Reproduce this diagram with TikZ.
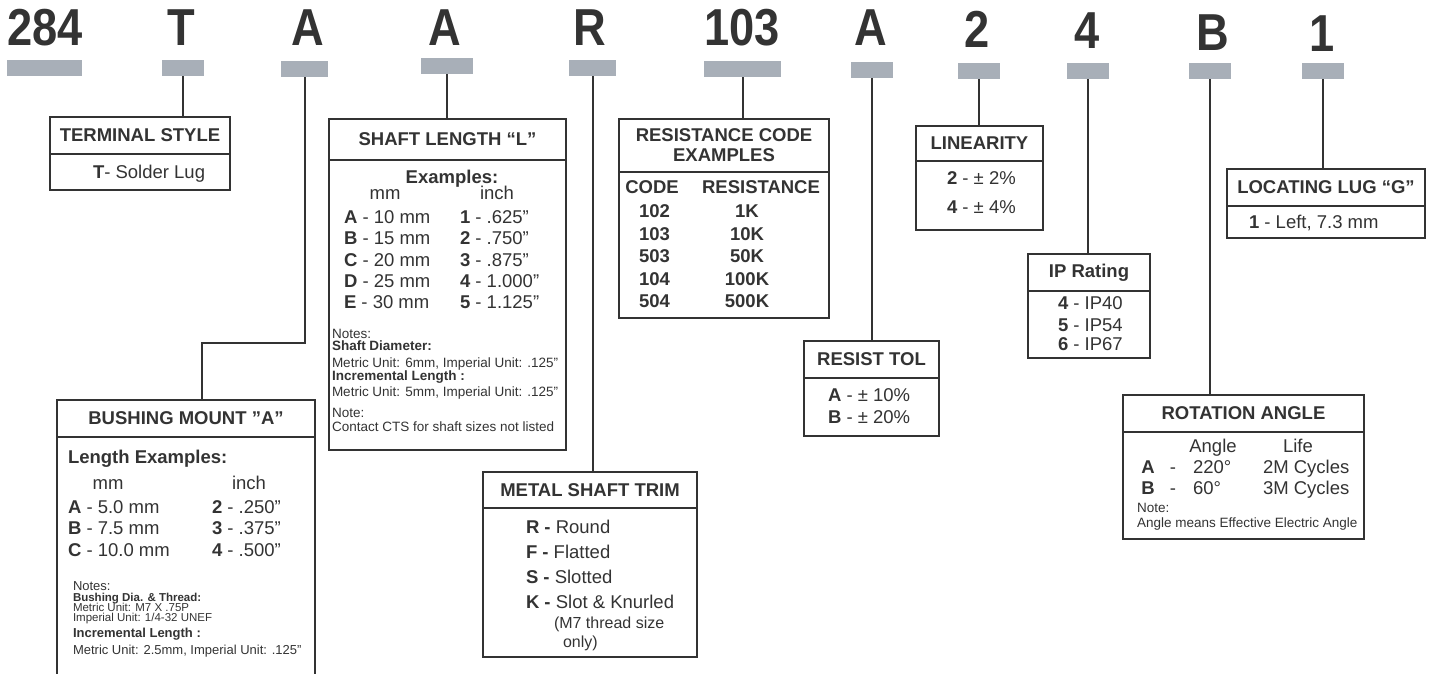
\documentclass[tikz,border=0pt]{standalone}
\usepackage{fontspec}
\setmainfont{Liberation Sans}
\definecolor{ink}{HTML}{333333}
\definecolor{slotgray}{HTML}{A8AFB8}
\begin{document}
\begin{tikzpicture}[x=1pt, y=-1pt, color=ink, line width=2pt,
  code/.style={font=\bfseries\fontsize{52}{52}\selectfont, anchor=base, inner sep=0pt},
  slot/.style={fill=slotgray, inner sep=0pt, outer sep=0pt, anchor=north west, minimum height=16pt},
  head/.style={draw, inner sep=0pt, outer sep=0pt, anchor=north west, minimum height=37pt, align=center, font=\bfseries\fontsize{18.5}{20}\selectfont},
  body/.style={draw, inner sep=0pt, outer sep=0pt, anchor=north},
  txt/.style={inner sep=0pt, anchor=west, text height=13.2pt, text depth=0pt, font=\fontsize{18.5}{20}\selectfont},
  note/.style={inner sep=0pt, anchor=west, text height=9.6pt, text depth=0pt, font=\fontsize{13.5}{15}\selectfont},
  tiny/.style={inner sep=0pt, anchor=west, text height=8.2pt, text depth=0pt, font=\fontsize{11.5}{12}\selectfont}]
\useasboundingbox (0,0) rectangle (1435,673);
\clip (0,0) rectangle (1435,673);

\node[code] (c284) at (45,45) {\scalebox{0.87}[1]{284}};
\node[code] (cT) at (181,45) {\scalebox{0.87}[1]{T}};
\node[code] (cA1) at (308,45) {\scalebox{0.87}[1]{A}};
\node[code] (cA2) at (445,45) {\scalebox{0.87}[1]{A}};
\node[code] (cR) at (590,45) {\scalebox{0.87}[1]{R}};
\node[code] (c103) at (742,45) {\scalebox{0.87}[1]{103}};
\node[code] (cA3) at (871,45) {\scalebox{0.87}[1]{A}};
\node[code] (c2) at (977,47) {\scalebox{0.87}[1]{2}};
\node[code] (c4) at (1087,48) {\scalebox{0.87}[1]{4}};
\node[code] (cB) at (1213,50) {\scalebox{0.87}[1]{B}};
\node[code] (c1) at (1322,51) {\scalebox{0.87}[1]{1}};

\node[slot, minimum width=75pt] (s284) at (7,60) {};
\node[slot, minimum width=42pt] (sT) at (162,60) {};
\node[slot, minimum width=47pt] (sA1) at (281,61) {};
\node[slot, minimum width=52pt] (sA2) at (421,58) {};
\node[slot, minimum width=47pt] (sR) at (569,60) {};
\node[slot, minimum width=77pt] (s103) at (704,61) {};
\node[slot, minimum width=42pt] (sA3) at (851,62) {};
\node[slot, minimum width=42pt] (s2) at (958,63) {};
\node[slot, minimum width=42pt] (s4) at (1067,63) {};
\node[slot, minimum width=42pt] (sB) at (1189,63) {};
\node[slot, minimum width=42pt] (s1) at (1302,63) {};

\node[head, minimum width=180pt] (termhead) at (50,117) {TERMINAL STYLE};
\node[body, minimum width=180pt, minimum height=36pt] (termbody) at (termhead.south) {};
\node[txt] (termT) at (92,172) {\textbf{T}- Solder Lug};

\node[head, minimum width=258pt] (bushhead) at (57,400) {BUSHING MOUNT ”A”};
\node[body, minimum width=258pt, minimum height=260pt] (bushbody) at (bushhead.south) {};
\node[txt] (bushex) at (67,457) {\textbf{Length Examples:}};
\node[txt, anchor=center] (bushmm) at (108,483) {mm};
\node[txt, anchor=center] (bushin) at (249,483) {inch};
\node[txt] (bushA) at (67,507) {\textbf{A} - 5.0 mm};
\node[txt] (bushB) at (67,528) {\textbf{B} - 7.5 mm};
\node[txt] (bushC) at (67,550) {\textbf{C} - 10.0 mm};
\node[txt] (bush2) at (211,507) {\textbf{2} - .250”};
\node[txt] (bush3) at (211,528) {\textbf{3} - .375”};
\node[txt] (bush4) at (211,550) {\textbf{4} - .500”};
\node[note, font=\fontsize{13}{15}\selectfont] (bushn1) at (72,586) {Notes:};
\node[tiny] (bushn2) at (72,597) {\textbf{Bushing Dia. \& Thread:}};
\node[tiny] (bushn3) at (72,607) {Metric Unit: M7 X .75P};
\node[tiny] (bushn4) at (72,617) {Imperial Unit: 1/4-32 UNEF};
\node[note, font=\fontsize{13}{15}\selectfont] (bushn5) at (72,633) {\textbf{Incremental Length :}};
\node[note, font=\fontsize{13}{15}\selectfont] (bushn6) at (72,650) {Metric Unit: 2.5mm, Imperial Unit: .125”};

\node[head, minimum width=237pt, minimum height=41pt] (shafthead) at (329,119) {SHAFT LENGTH “L”};
\node[body, minimum width=237pt, minimum height=290pt] (shaftbody) at (shafthead.south) {};
\node[txt, anchor=center] (shaftex) at (452,177) {\textbf{Examples:}};
\node[txt, anchor=center] (shaftmm) at (385,193) {mm};
\node[txt, anchor=center] (shaftin) at (497,193) {inch};
\node[txt] (shaftA) at (343,217) {\textbf{A} - 10 mm};
\node[txt] (shaftB) at (343,238) {\textbf{B} - 15 mm};
\node[txt] (shaftC) at (343,260) {\textbf{C} - 20 mm};
\node[txt] (shaftD) at (343,281) {\textbf{D} - 25 mm};
\node[txt] (shaftE) at (343,302) {\textbf{E} - 30 mm};
\node[txt] (shaft1) at (459,217) {\textbf{1} - .625”};
\node[txt] (shaft2) at (459,238) {\textbf{2} - .750”};
\node[txt] (shaft3) at (459,260) {\textbf{3} - .875”};
\node[txt] (shaft4) at (459,281) {\textbf{4} - 1.000”};
\node[txt] (shaft5) at (459,302) {\textbf{5} - 1.125”};
\node[note] (shaftn1) at (331,334) {Notes:};
\node[note] (shaftn2) at (331,346) {\textbf{Shaft Diameter:}};
\node[note] (shaftn3) at (331,363) {Metric Unit: 6mm, Imperial Unit: .125”};
\node[note] (shaftn4) at (331,376) {\textbf{Incremental Length :}};
\node[note] (shaftn5) at (331,392) {Metric Unit: 5mm, Imperial Unit: .125”};
\node[note] (shaftn6) at (331,413) {Note:};
\node[note] (shaftn7) at (331,427) {Contact CTS for shaft sizes not listed};

\node[head, minimum width=214pt, minimum height=36pt] (trimhead) at (483,472) {METAL SHAFT TRIM};
\node[body, minimum width=214pt, minimum height=149pt] (trimbody) at (trimhead.south) {};
\node[txt] (trimR) at (525,527) {\textbf{R -} Round};
\node[txt] (trimF) at (525,552) {\textbf{F -} Flatted};
\node[txt] (trimS) at (525,577) {\textbf{S -} Slotted};
\node[txt] (trimK) at (525,602) {\textbf{K -} Slot \& Knurled};
\node[txt, font=\fontsize{16}{18}\selectfont, text height=11.5pt] (trimK2) at (553,623) {(M7 thread size};
\node[txt, font=\fontsize{16}{18}\selectfont, text height=11.5pt] (trimK3) at (562,642) {only)};

\node[head, minimum width=210pt, minimum height=53pt] (reshead) at (619,119) {RESISTANCE CODE\\EXAMPLES};
\node[body, minimum width=210pt, minimum height=146pt] (resbody) at (reshead.south) {};
\node[txt, anchor=center] (rescode) at (652,187) {\textbf{CODE}};
\node[txt, anchor=center] (resval) at (761,187) {\textbf{RESISTANCE}};
\node[txt] (res102) at (638,211) {\textbf{102}};
\node[txt] (res103) at (638,234) {\textbf{103}};
\node[txt] (res503) at (638,256) {\textbf{503}};
\node[txt] (res104) at (638,279) {\textbf{104}};
\node[txt] (res504) at (638,301) {\textbf{504}};
\node[txt, anchor=center] (res1k) at (747,211) {\textbf{1K}};
\node[txt, anchor=center] (res10k) at (747,234) {\textbf{10K}};
\node[txt, anchor=center] (res50k) at (747,256) {\textbf{50K}};
\node[txt, anchor=center] (res100k) at (747,279) {\textbf{100K}};
\node[txt, anchor=center] (res500k) at (747,301) {\textbf{500K}};

\node[head, minimum width=135pt] (tolhead) at (804,341) {RESIST TOL};
\node[body, minimum width=135pt, minimum height=58pt] (tolbody) at (tolhead.south) {};
\node[txt] (tolA) at (827,395) {\textbf{A} - ± 10\%};
\node[txt] (tolB) at (827,417) {\textbf{B} - ± 20\%};

\node[head, minimum width=127pt, minimum height=35pt] (linhead) at (916,126) {LINEARITY};
\node[body, minimum width=127pt, minimum height=69pt] (linbody) at (linhead.south) {};
\node[txt] (lin2) at (946,178) {\textbf{2} - ± 2\%};
\node[txt] (lin4) at (946,207) {\textbf{4} - ± 4\%};

\node[head, minimum width=122pt] (iphead) at (1028,254) {IP Rating};
\node[body, minimum width=122pt, minimum height=67pt] (ipbody) at (iphead.south) {};
\node[txt] (ip4) at (1057,303) {\textbf{4} - IP40};
\node[txt] (ip5) at (1057,325) {\textbf{5} - IP54};
\node[txt] (ip6) at (1057,344) {\textbf{6} - IP67};

\node[head, minimum width=198pt] (lughead) at (1227,169) {LOCATING LUG “G”};
\node[body, minimum width=198pt, minimum height=32pt] (lugbody) at (lughead.south) {};
\node[txt] (lug1) at (1248,222) {\textbf{1} - Left, 7.3 mm};

\node[head, minimum width=241pt] (rothead) at (1123,395) {ROTATION ANGLE};
\node[body, minimum width=241pt, minimum height=107pt] (rotbody) at (rothead.south) {};
\node[txt, anchor=center] (rotang) at (1213,446) {Angle};
\node[txt, anchor=center] (rotlife) at (1298,446) {Life};
\node[txt, anchor=center] (rotA) at (1148,467) {\textbf{A}};
\node[txt, anchor=center] (rotAd) at (1173,467) {-};
\node[txt] (rotA1) at (1192,467) {220°};
\node[txt] (rotA2) at (1262,467) {2M Cycles};
\node[txt, anchor=center] (rotB) at (1148,488) {\textbf{B}};
\node[txt, anchor=center] (rotBd) at (1173,488) {-};
\node[txt] (rotB1) at (1192,488) {60°};
\node[txt] (rotB2) at (1262,488) {3M Cycles};
\node[note] (rotn1) at (1136,508) {Note:};
\node[note] (rotn2) at (1136,523) {Angle means Effective Electric Angle};

\coordinate (bushbend) at (202,343);
\draw (sT.south) -- (sT.south |- termhead.north);
\draw (sA1.south) |- (bushbend) -- (bushbend |- bushhead.north);
\draw (sA2.south) -- (sA2.south |- shafthead.north);
\draw (sR.south) -- (sR.south |- trimhead.north);
\draw (s103.south) -- (s103.south |- reshead.north);
\draw (sA3.south) -- (sA3.south |- tolhead.north);
\draw (s2.south) -- (s2.south |- linhead.north);
\draw (s4.south) -- (s4.south |- iphead.north);
\draw (sB.south) -- (sB.south |- rothead.north);
\draw (s1.south) -- (s1.south |- lughead.north);
\end{tikzpicture}
\end{document}
